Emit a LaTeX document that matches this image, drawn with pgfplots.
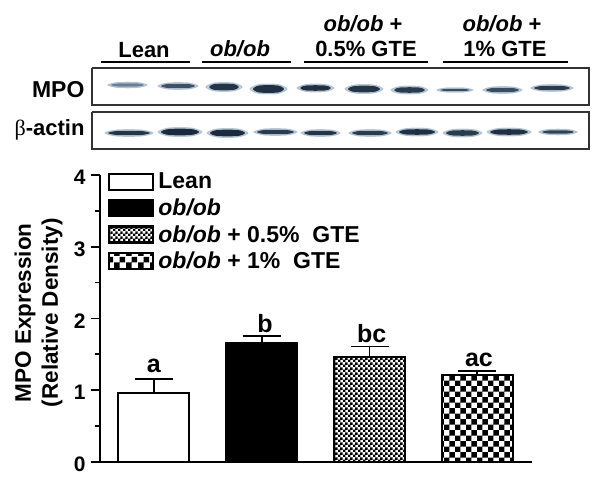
\documentclass[border=0pt]{standalone}
\usepackage{fontspec}
\setmainfont{Liberation Sans}
\newfontfamily\symserif{Liberation Serif}
\usepackage{pgfplots}
\pgfplotsset{compat=1.18}
\usetikzlibrary{patterns}

\pgfdeclarepatternformonly{check big}{\pgfqpoint{0pt}{0pt}}{\pgfqpoint{11.4pt}{11.4pt}}{\pgfqpoint{11.4pt}{11.4pt}}{%
  \pgfpathrectangle{\pgfpointorigin}{\pgfqpoint{5.7pt}{5.7pt}}%
  \pgfpathrectangle{\pgfqpoint{5.7pt}{5.7pt}}{\pgfqpoint{5.7pt}{5.7pt}}%
  \pgfusepath{fill}}
\pgfdeclarepatternformonly{check small}{\pgfqpoint{0pt}{0pt}}{\pgfqpoint{4.7pt}{4.7pt}}{\pgfqpoint{4.7pt}{4.7pt}}{%
  \pgfpathrectangle{\pgfpointorigin}{\pgfqpoint{2.5pt}{2.5pt}}%
  \pgfpathrectangle{\pgfqpoint{2.35pt}{2.35pt}}{\pgfqpoint{2.5pt}{2.5pt}}%
  \pgfusepath{fill}}

\definecolor{blotdark}{HTML}{1B2A3C}
\definecolor{blotedge}{HTML}{7F9BB3}
\definecolor{panelline}{HTML}{333333}

% x1 x2 y height darkness
\newcommand{\band}[5]{%
  \addplot[fill=blotedge, draw=blotedge, line width=1pt, opacity=0.45, smooth cycle] coordinates {
    (#1,#3) (#1*0.75+#2*0.25,#3-#4/2) (#1*0.25+#2*0.75,#3-#4/2)
    (#2,#3) (#1*0.25+#2*0.75,#3+#4/2) (#1*0.75+#2*0.25,#3+#4/2)};
  \addplot[fill=blotdark!#5!blotedge, draw=none, smooth cycle] coordinates {
    (#1+3,#3) (#1*0.75+#2*0.25,#3-#4/2+1) (#1*0.25+#2*0.75,#3-#4/2+1)
    (#2-3,#3) (#1*0.25+#2*0.75,#3+#4/2-1) (#1*0.75+#2*0.25,#3+#4/2-1)};
}

\begin{document}
\begin{tikzpicture}[font=\bfseries]
\path[use as bounding box] (0,0) rectangle (601pt,485pt);

% blot panels, in image pixels
\begin{axis}[
    at={(0pt,0pt)}, anchor=south west,
    x=1pt, y=1pt,
    xmin=0, xmax=601, ymin=0, ymax=485,
    y dir=reverse,
    hide axis, clip=false,
]
\addplot[panelline, line width=1.8pt] coordinates {(92,68) (589,68) (589,105) (92,105) (92,68)};
\addplot[panelline, line width=1.8pt] coordinates {(92,112) (589,112) (589,149) (92,149) (92,112)};

\addplot[black, line width=1.8pt] coordinates {(101,62) (190,62)};
\addplot[black, line width=1.8pt] coordinates {(202,62) (291,62)};
\addplot[black, line width=1.8pt] coordinates {(304,62) (428,62)};
\addplot[black, line width=1.8pt] coordinates {(443,62) (568,62)};

\band{108}{147}{85}{5}{25}
\band{158}{198}{86}{6}{65}
\band{206}{242}{87}{8}{90}
\band{250}{287}{89}{9}{95}
\band{297}{334}{88}{7}{95}
\band{345}{383}{89}{8}{90}
\band{391}{428}{90}{7}{85}
\band{437}{473}{90}{4}{70}
\band{483}{522}{90}{6}{70}
\band{531}{573}{88}{6}{85}

\band{105}{153}{133}{6}{90}
\band{158}{202}{132}{8}{100}
\band{207}{248}{133}{8}{100}
\band{254}{297}{132}{6}{85}
\band{301}{340}{133}{6}{90}
\band{349}{391}{133}{6}{85}
\band{396}{438}{132}{7}{95}
\band{443}{482}{133}{7}{85}
\band{487}{531}{132}{7}{95}
\band{539}{577}{132}{5}{80}

\node[anchor=base, font=\bfseries\fontsize{22}{22}\selectfont] at (axis cs:144,58) {Lean};
\node[anchor=base, font=\bfseries\itshape\fontsize{22}{22}\selectfont] at (axis cs:240,57) {ob/ob};
\node[anchor=base, font=\bfseries\fontsize{22}{22}\selectfont] at (axis cs:363,32) {\textit{ob/ob} +};
\node[anchor=base, font=\bfseries\fontsize{22}{22}\selectfont] at (axis cs:366,57) {0.5\% GTE};
\node[anchor=base, font=\bfseries\fontsize{22}{22}\selectfont] at (axis cs:502,32) {\textit{ob/ob} +};
\node[anchor=base, font=\bfseries\fontsize{22}{22}\selectfont] at (axis cs:505,57) {1\% GTE};
\node[anchor=east, font=\bfseries\fontsize{23}{23}\selectfont] at (axis cs:88,90) {MPO};
\node[anchor=east, font=\bfseries\fontsize{22}{22}\selectfont] at (axis cs:88,130) {{\symserif\mdseries β}-actin};
\end{axis}

% bar chart
\begin{axis}[
    at={(100pt,23pt)}, anchor=south west,
    x=107.8pt, y=71.8pt,
    xmin=-0.5, xmax=3.506,
    ymin=0, ymax=4,
    axis x line=bottom, axis y line=left,
    axis line style={-, line width=2pt},
    xtick=\empty,
    ytick={0,1,2,3,4},
    minor ytick={0.5,1.5,2.5,3.5},
    tick align=outside,
    major tick length=9pt, minor tick length=5pt,
    every tick/.style={black, line width=1.8pt},
    tick label style={font=\bfseries\fontsize{21}{21}\selectfont},
    yticklabel style={xshift=-2pt, yshift=-2.5pt},
    /pgf/number format/assume math mode=true,
    ylabel={MPO Expression\\(Relative Density)},
    ylabel style={align=center, font=\bfseries\fontsize{22.5}{27}\selectfont,
        at={(axis description cs:-0.142,0.52)}, anchor=center},
    clip=false,
    ybar, bar width=71pt, bar shift=0pt,
    legend cell align=left,
    legend style={at={(axis cs:-0.5,4)}, anchor=north west, draw=none, fill=none,
        font=\bfseries\fontsize{23}{23}\selectfont, row sep=6.5pt,
        nodes={inner xsep=4pt, inner ysep=1pt},
        inner xsep=0pt, inner ysep=0pt, xshift=8pt, yshift=3pt},
    legend image code/.code={
        \draw[#1, line width=2.2pt, draw=black] (0pt,-8pt) rectangle (44pt,8pt);
    },
    error bars/error mark options={rotate=90, mark size=19pt, line width=1.8pt},
    error bars/error bar style={line width=1.8pt},
]
\addplot[draw=black, fill=white, line width=2pt,
    error bars/.cd, y dir=plus, y explicit]
    coordinates {(0,0.96) +- (0,0.195)};
\addlegendentry{Lean}
\addplot[draw=black, fill=black, line width=2pt,
    error bars/.cd, y dir=plus, y explicit]
    coordinates {(1,1.66) +- (0,0.09)};
\addlegendentry{\textit{ob/ob}}
\addplot[draw=black, pattern=check small, line width=2pt,
    error bars/.cd, y dir=plus, y explicit]
    coordinates {(2,1.46) +- (0,0.15)};
\addlegendentry{\textit{ob/ob} + 0.5\%\ \ GTE}
\addplot[draw=black, pattern=check big, line width=2pt,
    error bars/.cd, y dir=plus, y explicit]
    coordinates {(3,1.21) +- (0,0.06)};
\addlegendentry{\textit{ob/ob} + 1\%\ \ GTE}

\node[anchor=base, font=\bfseries\fontsize{25}{25}\selectfont] at (axis cs:0,1.24) {a};
\node[anchor=base, font=\bfseries\fontsize{25}{25}\selectfont] at (axis cs:1.03,1.80) {b};
\node[anchor=base, font=\bfseries\fontsize{25}{25}\selectfont] at (axis cs:2.02,1.66) {bc};
\node[anchor=base, font=\bfseries\fontsize{25}{25}\selectfont] at (axis cs:3.015,1.33) {ac};
\end{axis}
\end{tikzpicture}
\end{document}
